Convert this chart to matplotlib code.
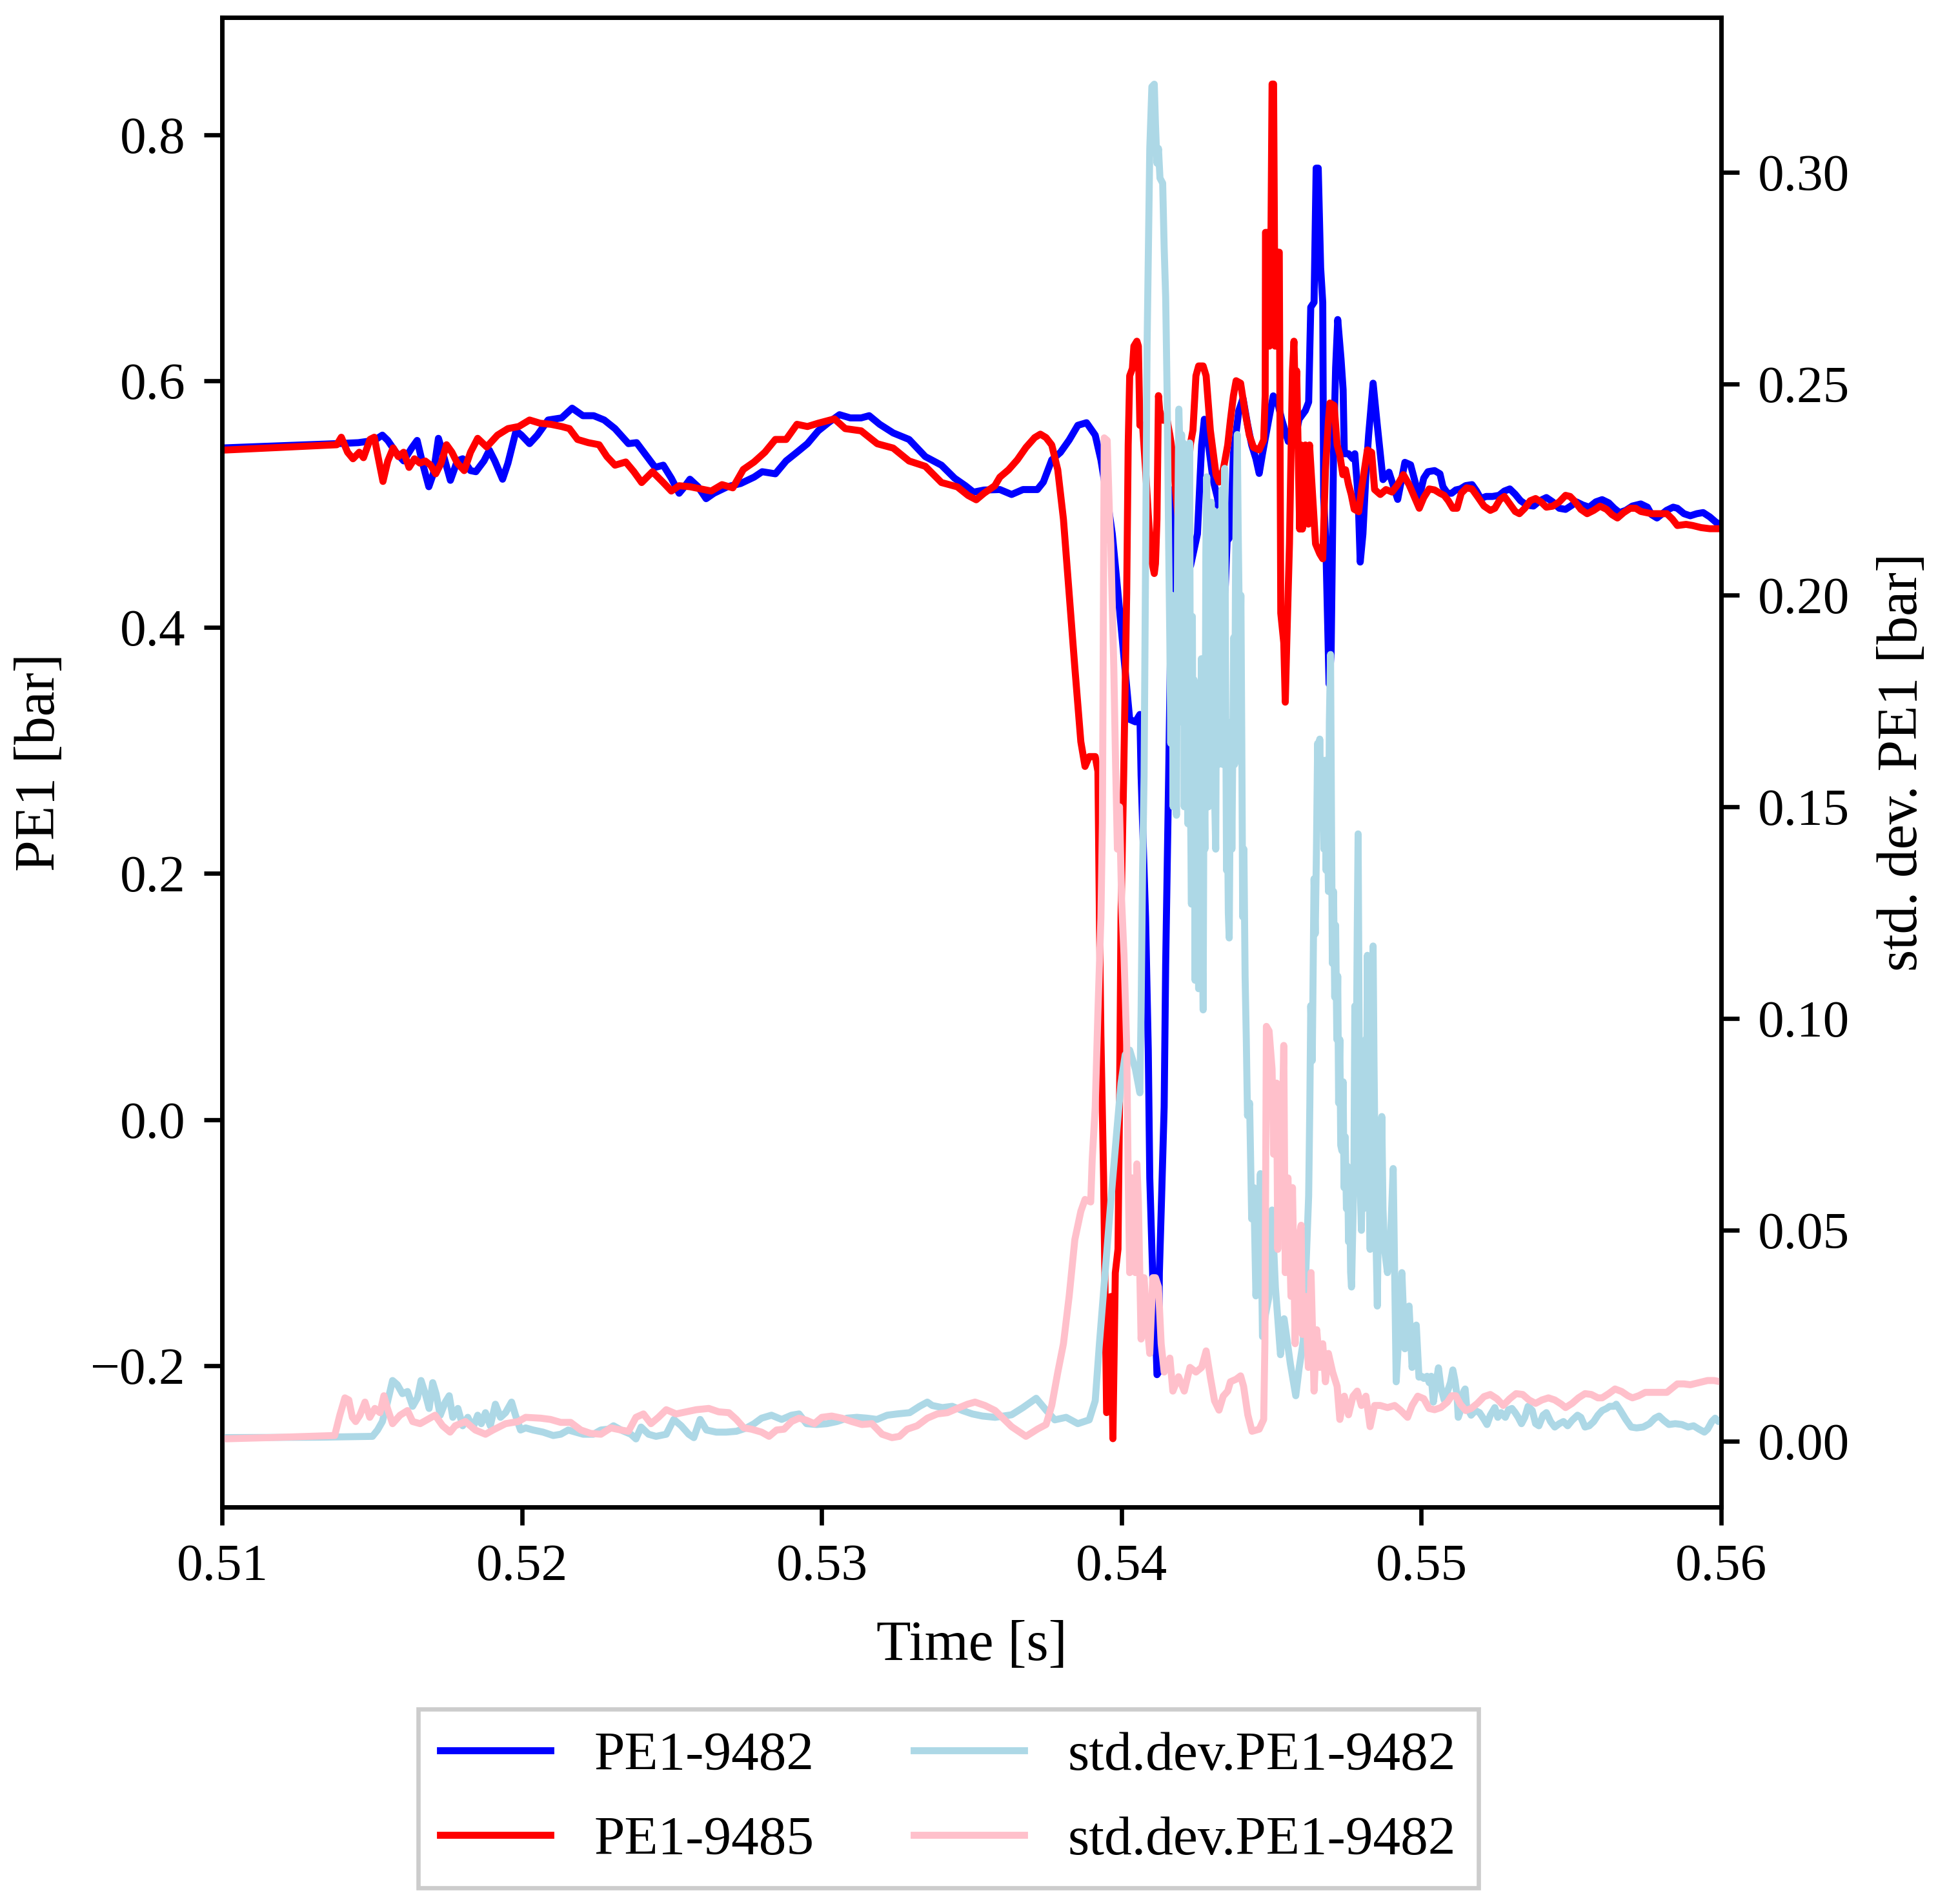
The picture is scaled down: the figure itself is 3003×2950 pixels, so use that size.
import numpy as np
import matplotlib
matplotlib.use("Agg")
import matplotlib.pyplot as plt

# ---- data ----
# PE1-9482 pressure [bar]
pe_9482 = [
    (0.5100, 0.5457), (0.51382, 0.5492), (0.51454, 0.5500), (0.51507, 0.5518), (0.51534, 0.5561),
    (0.51552, 0.5518), (0.51579, 0.5422), (0.51605, 0.5352), (0.51632, 0.5457), (0.51650, 0.5518),
    (0.51668, 0.5334), (0.51689, 0.5142), (0.51704, 0.5247), (0.51721, 0.5535), (0.51739, 0.5387),
    (0.51761, 0.5194), (0.51784, 0.5352), (0.51802, 0.5369), (0.51828, 0.5273), (0.51846, 0.5264),
    (0.51873, 0.5352), (0.51891, 0.5439), (0.51909, 0.5352), (0.51935, 0.5203), (0.51953, 0.5334),
    (0.51980, 0.5596), (0.51998, 0.5561), (0.52025, 0.5492), (0.52051, 0.5561), (0.52087, 0.5684),
    (0.52132, 0.5701), (0.52167, 0.5780), (0.52203, 0.5719), (0.52239, 0.5719), (0.52274, 0.5684),
    (0.52310, 0.5614), (0.52355, 0.5492), (0.52382, 0.5500), (0.52417, 0.5387), (0.52444, 0.5299),
    (0.52471, 0.5317), (0.52498, 0.5211), (0.52524, 0.5089), (0.52542, 0.5142), (0.52560, 0.5203),
    (0.52587, 0.5142), (0.52614, 0.5045), (0.52640, 0.5089), (0.52685, 0.5142), (0.52729, 0.5168),
    (0.52774, 0.5220), (0.52801, 0.5264), (0.52845, 0.5247), (0.52881, 0.5352), (0.52917, 0.5422),
    (0.52952, 0.5492), (0.52988, 0.5596), (0.53024, 0.5666), (0.53059, 0.5727), (0.53095, 0.5701),
    (0.53131, 0.5701), (0.53158, 0.5719), (0.53193, 0.5649), (0.53238, 0.5579), (0.53291, 0.5526),
    (0.53345, 0.5387), (0.53399, 0.5317), (0.53443, 0.5211), (0.53479, 0.5150), (0.53506, 0.5098),
    (0.53541, 0.5115), (0.53594, 0.5119), (0.53633, 0.5079), (0.53671, 0.5119), (0.53719, 0.5119),
    (0.53739, 0.5180), (0.53767, 0.5360), (0.53796, 0.5421), (0.53825, 0.5521), (0.53854, 0.5641),
    (0.53883, 0.5662), (0.53912, 0.5561), (0.53931, 0.5360), (0.53950, 0.5079), (0.53969, 0.4758),
    (0.53988, 0.4276), (0.54008, 0.3754), (0.54027, 0.3252), (0.54046, 0.3232), (0.54061, 0.3292),
    (0.54065, 0.2798), (0.54080, 0.1643), (0.54089, 0.0566), (0.54094, -0.0474), (0.54104, -0.1282),
    (0.54113, -0.1667), (0.54118, -0.2071), (0.54123, -0.2052), (0.54126, -0.1244), (0.54133, -0.0666),
    (0.54142, 0.0104), (0.54147, 0.1258), (0.54157, 0.2798), (0.54166, 0.4276), (0.54171, 0.5119),
    (0.54178, 0.4316), (0.54200, 0.4400), (0.54230, 0.4500), (0.54253, 0.4758), (0.54267, 0.5481),
    (0.54276, 0.5690), (0.54290, 0.5480), (0.54305, 0.5200), (0.54320, 0.5050), (0.54345, 0.4280),
    (0.54352, 0.4700), (0.54363, 0.4740), (0.54373, 0.5410), (0.54384, 0.5620), (0.54391, 0.5760),
    (0.54405, 0.5860), (0.54420, 0.5650), (0.54434, 0.5480), (0.54448, 0.5370), (0.54459, 0.5250),
    (0.54470, 0.5410), (0.54491, 0.5690), (0.54506, 0.5880), (0.54520, 0.5830), (0.54534, 0.5690),
    (0.54556, 0.5510), (0.54577, 0.5510), (0.54592, 0.5690), (0.54613, 0.5760), (0.54624, 0.5830),
    (0.54631, 0.6600), (0.54642, 0.6640), (0.54649, 0.7730), (0.54656, 0.7730), (0.54664, 0.6920),
    (0.54671, 0.6640), (0.54674, 0.5060), (0.54681, 0.4700), (0.54692, 0.3540), (0.54699, 0.3790),
    (0.54707, 0.5410), (0.54714, 0.6110), (0.54721, 0.6500), (0.54732, 0.6180), (0.54739, 0.5930),
    (0.54743, 0.5410), (0.54757, 0.5410), (0.54771, 0.5370), (0.54778, 0.5410), (0.54789, 0.5060),
    (0.54796, 0.4530), (0.54805, 0.4758), (0.54815, 0.5240), (0.54824, 0.5561), (0.54839, 0.5983),
    (0.54853, 0.5641), (0.54872, 0.5200), (0.54892, 0.5260), (0.54921, 0.5039), (0.54945, 0.5340),
    (0.54964, 0.5320), (0.54993, 0.5054), (0.55008, 0.5212), (0.55022, 0.5264), (0.55044, 0.5273),
    (0.55062, 0.5247), (0.55072, 0.5142), (0.55087, 0.5089), (0.55101, 0.5089), (0.55115, 0.5116),
    (0.55130, 0.5124), (0.55148, 0.5151), (0.55169, 0.5159), (0.55184, 0.5107), (0.55198, 0.5046),
    (0.55216, 0.5063), (0.55237, 0.5063), (0.55259, 0.5072), (0.55277, 0.5107), (0.55295, 0.5124),
    (0.55313, 0.5081), (0.55331, 0.5028), (0.55352, 0.4993), (0.55374, 0.4985), (0.55395, 0.5028),
    (0.55417, 0.5054), (0.55438, 0.5019), (0.55460, 0.4967), (0.55481, 0.4958), (0.55503, 0.4993),
    (0.55517, 0.5019), (0.55539, 0.4993), (0.55560, 0.4976), (0.55582, 0.5019), (0.55603, 0.5037),
    (0.55625, 0.5011), (0.55643, 0.4967), (0.55661, 0.4932), (0.55682, 0.4950), (0.55704, 0.4985),
    (0.55732, 0.5002), (0.55754, 0.4976), (0.55768, 0.4915), (0.55786, 0.4888), (0.55800, 0.4915),
    (0.55818, 0.4950), (0.55840, 0.4976), (0.55854, 0.4967), (0.55876, 0.4923), (0.55897, 0.4906),
    (0.55919, 0.4923), (0.55940, 0.4932), (0.55962, 0.4897), (0.55983, 0.4853), (0.55998, 0.4836),
]

# PE1-9485 pressure [bar]
pe_9485 = [
    (0.5100, 0.5439), (0.51382, 0.5483), (0.51397, 0.5544), (0.51418, 0.5422), (0.51436, 0.5369),
    (0.51457, 0.5422), (0.51471, 0.5378), (0.51493, 0.5527), (0.51507, 0.5544), (0.51521, 0.5369),
    (0.51536, 0.5185), (0.51552, 0.5351), (0.51570, 0.5457), (0.51587, 0.5387), (0.51605, 0.5422),
    (0.51623, 0.5299), (0.51641, 0.5369), (0.51659, 0.5334), (0.51677, 0.5351), (0.51695, 0.5317),
    (0.51712, 0.5247), (0.51730, 0.5334), (0.51748, 0.5483), (0.51766, 0.5422), (0.51784, 0.5334),
    (0.51807, 0.5273), (0.51828, 0.5422), (0.51852, 0.5535), (0.51882, 0.5465), (0.51918, 0.5561),
    (0.51953, 0.5614), (0.51989, 0.5631), (0.52025, 0.5684), (0.52060, 0.5658), (0.52096, 0.5649),
    (0.52132, 0.5631), (0.52158, 0.5614), (0.52185, 0.5526), (0.52221, 0.5500), (0.52257, 0.5483),
    (0.52283, 0.5387), (0.52310, 0.5317), (0.52346, 0.5343), (0.52373, 0.5264), (0.52399, 0.5176),
    (0.52435, 0.5264), (0.52471, 0.5176), (0.52498, 0.5107), (0.52524, 0.5150), (0.52560, 0.5142),
    (0.52596, 0.5124), (0.52631, 0.5107), (0.52667, 0.5159), (0.52703, 0.5133), (0.52738, 0.5282),
    (0.52774, 0.5343), (0.52810, 0.5422), (0.52845, 0.5526), (0.52881, 0.5526), (0.52917, 0.5649),
    (0.52952, 0.5631), (0.52988, 0.5658), (0.53042, 0.5693), (0.53078, 0.5614), (0.53131, 0.5596),
    (0.53185, 0.5491), (0.53238, 0.5456), (0.53291, 0.5351), (0.53345, 0.5308), (0.53399, 0.5176),
    (0.53452, 0.5141), (0.53488, 0.5071), (0.53515, 0.5036), (0.53541, 0.5089), (0.53577, 0.5150),
    (0.53594, 0.5220), (0.53623, 0.5280), (0.53652, 0.5360), (0.53681, 0.5461), (0.53710, 0.5541),
    (0.53729, 0.5569), (0.53748, 0.5541), (0.53767, 0.5481), (0.53787, 0.5280), (0.53806, 0.4878),
    (0.53825, 0.4276), (0.53844, 0.3673), (0.53864, 0.3071), (0.53878, 0.2870), (0.53892, 0.2950),
    (0.53912, 0.2950), (0.53921, 0.2830), (0.53926, 0.1643), (0.53931, 0.0681), (0.53940, -0.0474),
    (0.53950, -0.2379), (0.53958, -0.2360), (0.53964, -0.1436), (0.53971, -0.2591), (0.53979, -0.1244),
    (0.53988, -0.1051), (0.53993, 0.0104), (0.53998, 0.1643), (0.54007, 0.2798), (0.54017, 0.4276),
    (0.54022, 0.5481), (0.54027, 0.6043), (0.54036, 0.6103), (0.54041, 0.6284), (0.54051, 0.6324),
    (0.54056, 0.6284), (0.54061, 0.5641), (0.54070, 0.5641), (0.54080, 0.5280), (0.54089, 0.4918),
    (0.54099, 0.4557), (0.54109, 0.4437), (0.54113, 0.4517), (0.54118, 0.4878), (0.54123, 0.5882),
    (0.54127, 0.5762), (0.54137, 0.5682), (0.54152, 0.5682), (0.54161, 0.5561), (0.54171, 0.5400),
    (0.54181, 0.5079), (0.54200, 0.4600), (0.54215, 0.5000), (0.54229, 0.5481), (0.54238, 0.5601),
    (0.54248, 0.6043), (0.54257, 0.6123), (0.54272, 0.6123), (0.54282, 0.6043), (0.54296, 0.5601),
    (0.54315, 0.5240), (0.54325, 0.5180), (0.54339, 0.5280), (0.54354, 0.5481), (0.54363, 0.5682),
    (0.54373, 0.5882), (0.54382, 0.6003), (0.54397, 0.5983), (0.54411, 0.5762), (0.54426, 0.5561),
    (0.54440, 0.5461), (0.54459, 0.5441), (0.54474, 0.5521), (0.54479, 0.5882), (0.54480, 0.7208),
    (0.54488, 0.7208), (0.54493, 0.6284), (0.54498, 0.7087), (0.54502, 0.8413), (0.54507, 0.8413),
    (0.54512, 0.6284), (0.54517, 0.7047), (0.54526, 0.7047), (0.54531, 0.4115), (0.54541, 0.3874),
    (0.54546, 0.3392), (0.54551, 0.3874), (0.54560, 0.4678), (0.54570, 0.6083), (0.54575, 0.6324),
    (0.54579, 0.5882), (0.54584, 0.6083), (0.54594, 0.4798), (0.54599, 0.5481), (0.54603, 0.4798),
    (0.54613, 0.5481), (0.54623, 0.4838), (0.54627, 0.5481), (0.54637, 0.5079), (0.54647, 0.4678),
    (0.54661, 0.4597), (0.54671, 0.4557), (0.54680, 0.5280), (0.54690, 0.5682), (0.54695, 0.5822),
    (0.54709, 0.5802), (0.54719, 0.5481), (0.54728, 0.5400), (0.54738, 0.5240), (0.54747, 0.5280),
    (0.54757, 0.5160), (0.54766, 0.5079), (0.54776, 0.4959), (0.54791, 0.4939), (0.54800, 0.5119),
    (0.54810, 0.5280), (0.54820, 0.5441), (0.54834, 0.5421), (0.54844, 0.5119), (0.54863, 0.5079),
    (0.54882, 0.5119), (0.54902, 0.5099), (0.54921, 0.5159), (0.54940, 0.5240), (0.54959, 0.5159),
    (0.54993, 0.4967), (0.55008, 0.5054), (0.55026, 0.5124), (0.55044, 0.5116), (0.55062, 0.5089),
    (0.55076, 0.5072), (0.55090, 0.5028), (0.55105, 0.4967), (0.55119, 0.4967), (0.55133, 0.5089),
    (0.55151, 0.5133), (0.55169, 0.5124), (0.55187, 0.5063), (0.55209, 0.4985), (0.55230, 0.4950),
    (0.55245, 0.4967), (0.55262, 0.5037), (0.55277, 0.5063), (0.55295, 0.5002), (0.55313, 0.4941),
    (0.55327, 0.4923), (0.55345, 0.4967), (0.55363, 0.5028), (0.55381, 0.5046), (0.55399, 0.5019),
    (0.55417, 0.4976), (0.55438, 0.4984), (0.55460, 0.5019), (0.55481, 0.5072), (0.55496, 0.5063),
    (0.55510, 0.5028), (0.55532, 0.4958), (0.55553, 0.4923), (0.55575, 0.4950), (0.55596, 0.4984),
    (0.55618, 0.4958), (0.55636, 0.4915), (0.55654, 0.4888), (0.55675, 0.4932), (0.55697, 0.4967),
    (0.55715, 0.4967), (0.55732, 0.4941), (0.55750, 0.4932), (0.55768, 0.4923), (0.55790, 0.4923),
    (0.55819, 0.4923), (0.55837, 0.4880), (0.55854, 0.4827), (0.55883, 0.4836), (0.55905, 0.4827),
    (0.55933, 0.4810), (0.55962, 0.4801), (0.55998, 0.4801),
]

# standard deviation of PE1-9482 [bar] (right axis)
std_9482 = [
    (0.5100, 0.0009), (0.51325, 0.0010), (0.51501, 0.0012), (0.51518, 0.0027), (0.51534, 0.0047),
    (0.51551, 0.0093), (0.51568, 0.0144), (0.51584, 0.0134), (0.51601, 0.0113), (0.51618, 0.0118),
    (0.51635, 0.0083), (0.51651, 0.0103), (0.51663, 0.0144), (0.51677, 0.0113), (0.51690, 0.0078),
    (0.51702, 0.0139), (0.51713, 0.0113), (0.51727, 0.0062), (0.51744, 0.0093), (0.51757, 0.0108),
    (0.51769, 0.0057), (0.51786, 0.0078), (0.51802, 0.0037), (0.51819, 0.0057), (0.51836, 0.0032),
    (0.51852, 0.0062), (0.51864, 0.0042), (0.51878, 0.0068), (0.51894, 0.0037), (0.51911, 0.0088),
    (0.51928, 0.0057), (0.51945, 0.0068), (0.51965, 0.0093), (0.51978, 0.0062), (0.51995, 0.0027),
    (0.52012, 0.0032), (0.52037, 0.0027), (0.52070, 0.0022), (0.52104, 0.0014), (0.52129, 0.0017),
    (0.52154, 0.0027), (0.52179, 0.0022), (0.52204, 0.0017), (0.52238, 0.0017), (0.52263, 0.0027),
    (0.52288, 0.0029), (0.52305, 0.0037), (0.52330, 0.0027), (0.52363, 0.0017), (0.52380, 0.0006),
    (0.52397, 0.0034), (0.52422, 0.0017), (0.52447, 0.0012), (0.52481, 0.0017), (0.52506, 0.0052),
    (0.52531, 0.0037), (0.52556, 0.0017), (0.52573, 0.0009), (0.52594, 0.0052), (0.52615, 0.0027),
    (0.52648, 0.0022), (0.52681, 0.0022), (0.52715, 0.0024), (0.52749, 0.0032), (0.52774, 0.0042),
    (0.52799, 0.0055), (0.52832, 0.0062), (0.52866, 0.0052), (0.52899, 0.0062), (0.52924, 0.0065),
    (0.52949, 0.0042), (0.52983, 0.0040), (0.53017, 0.0042), (0.53050, 0.0047), (0.53084, 0.0055),
    (0.53117, 0.0057), (0.53151, 0.0055), (0.53184, 0.0052), (0.53218, 0.0062), (0.53251, 0.0065),
    (0.53293, 0.0068), (0.53326, 0.0083), (0.53352, 0.0093), (0.53368, 0.0085), (0.53402, 0.0080),
    (0.53435, 0.0083), (0.53469, 0.0073), (0.53502, 0.0065), (0.53536, 0.0060), (0.53578, 0.0057),
    (0.53633, 0.0063), (0.53671, 0.0080), (0.53715, 0.0102), (0.53748, 0.0074), (0.53777, 0.0051),
    (0.53815, 0.0057), (0.53854, 0.0042), (0.53892, 0.0051), (0.53912, 0.0096), (0.53926, 0.0231),
    (0.53945, 0.0399), (0.53964, 0.0567), (0.53984, 0.0734), (0.53998, 0.0847), (0.54012, 0.0914),
    (0.54027, 0.0925), (0.54046, 0.0880), (0.54061, 0.0824), (0.54065, 0.1014), (0.54070, 0.1350),
    (0.54075, 0.1574), (0.54085, 0.2589), (0.54094, 0.3056), (0.54101, 0.3202), (0.54109, 0.3208),
    (0.54113, 0.3114), (0.54118, 0.3021), (0.54123, 0.3056), (0.54128, 0.2986), (0.54137, 0.2974),
    (0.54142, 0.2822), (0.54147, 0.2705), (0.54152, 0.2472), (0.54157, 0.2121), (0.54161, 0.1887),
    (0.54164, 0.165), (0.54168, 0.200), (0.54172, 0.150), (0.54176, 0.190), (0.54179, 0.165),
    (0.54183, 0.148), (0.54187, 0.215), (0.54191, 0.244), (0.54194, 0.236), (0.54197, 0.190),
    (0.54200, 0.238), (0.54203, 0.170), (0.54206, 0.236), (0.54209, 0.150), (0.54212, 0.225),
    (0.54215, 0.160), (0.54218, 0.232), (0.54221, 0.146), (0.54224, 0.200), (0.54227, 0.236),
    (0.54230, 0.150), (0.54233, 0.127), (0.54236, 0.195), (0.54239, 0.140), (0.54242, 0.180),
    (0.54245, 0.109), (0.54248, 0.170), (0.54251, 0.120), (0.54254, 0.160), (0.54257, 0.107),
    (0.54260, 0.150), (0.54263, 0.137), (0.54266, 0.185), (0.54269, 0.120), (0.54272, 0.102),
    (0.54275, 0.160), (0.54278, 0.140), (0.54281, 0.210), (0.54284, 0.228), (0.54287, 0.160),
    (0.54290, 0.150), (0.54293, 0.215), (0.54296, 0.180), (0.54299, 0.222), (0.54302, 0.165),
    (0.54305, 0.210), (0.54308, 0.220), (0.54311, 0.150), (0.54314, 0.140), (0.54317, 0.190),
    (0.54320, 0.205), (0.54323, 0.160), (0.54326, 0.175), (0.54329, 0.220), (0.54332, 0.190),
    (0.54335, 0.225), (0.54338, 0.160), (0.54341, 0.170), (0.54344, 0.230), (0.54347, 0.180),
    (0.54350, 0.135), (0.54353, 0.150), (0.54356, 0.125), (0.54359, 0.119), (0.54362, 0.150),
    (0.54365, 0.170), (0.54368, 0.140), (0.54371, 0.165), (0.54374, 0.190), (0.54377, 0.160),
    (0.54380, 0.205), (0.54383, 0.225), (0.54386, 0.238), (0.54389, 0.215), (0.54392, 0.198),
    (0.54395, 0.185), (0.54398, 0.200), (0.54401, 0.165), (0.54404, 0.124), (0.54408, 0.140),
    (0.54412, 0.110), (0.54416, 0.095), (0.54420, 0.077), (0.54427, 0.080), (0.54434, 0.0526),
    (0.54441, 0.060), (0.54448, 0.0344), (0.54456, 0.050), (0.54463, 0.0633), (0.54470, 0.0248),
    (0.54480, 0.030), (0.54491, 0.034), (0.54502, 0.0547), (0.54513, 0.0365), (0.54530, 0.0205),
    (0.54542, 0.029), (0.54552, 0.024), (0.54563, 0.0183), (0.54581, 0.0108), (0.54592, 0.0172),
    (0.54606, 0.0237), (0.54624, 0.058), (0.54628, 0.080), (0.54631, 0.103), (0.54636, 0.090),
    (0.54642, 0.133), (0.54646, 0.120), (0.54650, 0.140), (0.54654, 0.165), (0.54657, 0.150),
    (0.54661, 0.166), (0.54664, 0.155), (0.54668, 0.145), (0.54671, 0.160), (0.54675, 0.140),
    (0.54678, 0.161), (0.54682, 0.135), (0.54686, 0.150), (0.54690, 0.130), (0.54693, 0.170),
    (0.54697, 0.186), (0.54700, 0.150), (0.54703, 0.113), (0.54707, 0.130), (0.54711, 0.105),
    (0.54714, 0.122), (0.54718, 0.095), (0.54721, 0.110), (0.54724, 0.080), (0.54728, 0.095),
    (0.54731, 0.070), (0.54735, 0.0687), (0.54739, 0.085), (0.54742, 0.060), (0.54746, 0.072),
    (0.54750, 0.055), (0.54754, 0.065), (0.54757, 0.0472), (0.54761, 0.058), (0.54764, 0.040),
    (0.54767, 0.0365), (0.54771, 0.050), (0.54775, 0.0633), (0.54778, 0.1029), (0.54782, 0.080),
    (0.54786, 0.120), (0.54789, 0.1436), (0.54793, 0.090), (0.54796, 0.060), (0.54800, 0.0499),
    (0.54803, 0.070), (0.54807, 0.055), (0.54810, 0.0790), (0.54814, 0.095), (0.54817, 0.080),
    (0.54820, 0.1149), (0.54824, 0.070), (0.54829, 0.0454), (0.54833, 0.080), (0.54836, 0.100),
    (0.54839, 0.1171), (0.54842, 0.090), (0.54844, 0.0768), (0.54848, 0.050), (0.54853, 0.0320),
    (0.54857, 0.055), (0.54861, 0.070), (0.54865, 0.060), (0.54868, 0.0768), (0.54872, 0.055),
    (0.54877, 0.0454), (0.54887, 0.0399), (0.54897, 0.0477), (0.54906, 0.0645), (0.54916, 0.0141),
    (0.54925, 0.0253), (0.54935, 0.0399), (0.54945, 0.0219), (0.54959, 0.0320), (0.54969, 0.0175),
    (0.54983, 0.0275), (0.54992, 0.0152), (0.55001, 0.0154), (0.55008, 0.0149), (0.55019, 0.0154),
    (0.55026, 0.0139), (0.55033, 0.0154), (0.55040, 0.0093), (0.55047, 0.0129), (0.55057, 0.0174),
    (0.55065, 0.0129), (0.55076, 0.0098), (0.55087, 0.0118), (0.55097, 0.0139), (0.55105, 0.0169),
    (0.55112, 0.0144), (0.55119, 0.0108), (0.55123, 0.0057), (0.55133, 0.0078), (0.55141, 0.0118),
    (0.55146, 0.0124), (0.55151, 0.0083), (0.55166, 0.0062), (0.55180, 0.0073), (0.55194, 0.0068),
    (0.55209, 0.0052), (0.55219, 0.0040), (0.55230, 0.0062), (0.55245, 0.0080), (0.55255, 0.0057),
    (0.55266, 0.0068), (0.55280, 0.0057), (0.55291, 0.0075), (0.55302, 0.0078), (0.55313, 0.0068),
    (0.55323, 0.0057), (0.55334, 0.0042), (0.55345, 0.0057), (0.55356, 0.0083), (0.55370, 0.0073),
    (0.55381, 0.0042), (0.55392, 0.0037), (0.55406, 0.0062), (0.55417, 0.0068), (0.55431, 0.0047),
    (0.55445, 0.0034), (0.55460, 0.0042), (0.55474, 0.0047), (0.55488, 0.0037), (0.55503, 0.0050),
    (0.55521, 0.0062), (0.55532, 0.0057), (0.55546, 0.0034), (0.55560, 0.0037), (0.55575, 0.0047),
    (0.55589, 0.0062), (0.55603, 0.0073), (0.55618, 0.0078), (0.55628, 0.0083), (0.55643, 0.0083),
    (0.55650, 0.0088), (0.55664, 0.0073), (0.55682, 0.0052), (0.55700, 0.0034), (0.55718, 0.0032),
    (0.55740, 0.0034), (0.55761, 0.0042), (0.55779, 0.0055), (0.55793, 0.0060), (0.55808, 0.0050),
    (0.55826, 0.0040), (0.55847, 0.0042), (0.55869, 0.0040), (0.55890, 0.0034), (0.55908, 0.0037),
    (0.55926, 0.0029), (0.55944, 0.0022), (0.55955, 0.0029), (0.55969, 0.0047), (0.55980, 0.0055),
    (0.55991, 0.0047), (0.55998, 0.0047),
]

# second standard deviation series (right axis, pink)
std_9485 = [
    (0.5100, 0.0006), (0.51157, 0.0009), (0.51375, 0.0014), (0.51392, 0.0062), (0.51409, 0.0103),
    (0.51422, 0.0098), (0.51434, 0.0057), (0.51445, 0.0047), (0.51459, 0.0062), (0.51476, 0.0093),
    (0.51492, 0.0057), (0.51509, 0.0078), (0.51526, 0.0068), (0.51539, 0.0108), (0.51551, 0.0078),
    (0.51568, 0.0042), (0.51593, 0.0062), (0.51618, 0.0073), (0.51635, 0.0047), (0.51660, 0.0042),
    (0.51685, 0.0052), (0.51710, 0.0062), (0.51735, 0.0037), (0.51760, 0.0022), (0.51777, 0.0037),
    (0.51811, 0.0047), (0.51844, 0.0027), (0.51878, 0.0017), (0.51903, 0.0027), (0.51945, 0.0042),
    (0.51987, 0.0047), (0.52012, 0.0057), (0.52062, 0.0055), (0.52095, 0.0052), (0.52129, 0.0045),
    (0.52162, 0.0045), (0.52196, 0.0027), (0.52229, 0.0019), (0.52263, 0.0017), (0.52296, 0.0032),
    (0.52330, 0.0027), (0.52355, 0.0024), (0.52380, 0.0057), (0.52405, 0.0065), (0.52430, 0.0042),
    (0.52455, 0.0057), (0.52481, 0.0075), (0.52514, 0.0065), (0.52548, 0.0070), (0.52581, 0.0075),
    (0.52623, 0.0078), (0.52656, 0.0070), (0.52690, 0.0068), (0.52715, 0.0052), (0.52740, 0.0032),
    (0.52765, 0.0029), (0.52799, 0.0022), (0.52824, 0.0012), (0.52849, 0.0027), (0.52874, 0.0029),
    (0.52899, 0.0047), (0.52924, 0.0055), (0.52949, 0.0050), (0.52975, 0.0042), (0.53000, 0.0057),
    (0.53033, 0.0060), (0.53067, 0.0055), (0.53100, 0.0047), (0.53134, 0.0040), (0.53167, 0.0042),
    (0.53201, 0.0017), (0.53234, 0.0009), (0.53259, 0.0012), (0.53285, 0.0029), (0.53318, 0.0037),
    (0.53352, 0.0055), (0.53385, 0.0065), (0.53419, 0.0068), (0.53452, 0.0078), (0.53486, 0.0088),
    (0.53511, 0.0093), (0.53544, 0.0085), (0.53578, 0.0073), (0.53633, 0.0035), (0.53681, 0.0012),
    (0.53719, 0.0029), (0.53748, 0.0040), (0.53767, 0.0085), (0.53787, 0.0163), (0.53806, 0.0231),
    (0.53825, 0.0343), (0.53844, 0.0477), (0.53864, 0.0544), (0.53878, 0.0572), (0.53897, 0.0566),
    (0.53902, 0.0667), (0.53912, 0.0791), (0.53921, 0.1014), (0.53931, 0.1238), (0.53936, 0.1462),
    (0.53942, 0.2372), (0.53952, 0.2366), (0.53960, 0.2180), (0.53964, 0.2121), (0.53974, 0.1829),
    (0.53980, 0.160), (0.53986, 0.140), (0.53993, 0.150), (0.54000, 0.128), (0.54008, 0.115),
    (0.54017, 0.0936), (0.54022, 0.0623), (0.54027, 0.0399), (0.54036, 0.0623), (0.54046, 0.0399),
    (0.54051, 0.0656), (0.54056, 0.0567), (0.54065, 0.0242), (0.54075, 0.0387), (0.54084, 0.0287),
    (0.54094, 0.0208), (0.54104, 0.0387), (0.54113, 0.0387), (0.54123, 0.0365), (0.54132, 0.0231),
    (0.54142, 0.0164), (0.54161, 0.0197), (0.54171, 0.0119), (0.54190, 0.0153), (0.54209, 0.0119),
    (0.54228, 0.0175), (0.54248, 0.0164), (0.54267, 0.0175), (0.54282, 0.0214), (0.54296, 0.0152),
    (0.54310, 0.0096), (0.54325, 0.0074), (0.54339, 0.0107), (0.54354, 0.0119), (0.54363, 0.0141),
    (0.54382, 0.0147), (0.54397, 0.0155), (0.54407, 0.0130), (0.54421, 0.0063), (0.54435, 0.0024),
    (0.54459, 0.0029), (0.54474, 0.0052), (0.54478, 0.0231), (0.54483, 0.0981), (0.54492, 0.0970),
    (0.54502, 0.0880), (0.54507, 0.0679), (0.54517, 0.0847), (0.54521, 0.0454), (0.54526, 0.0790),
    (0.54531, 0.0567), (0.54541, 0.0936), (0.54546, 0.0399), (0.54555, 0.0623), (0.54565, 0.0343),
    (0.54570, 0.0600), (0.54579, 0.0231), (0.54584, 0.0454), (0.54599, 0.0511), (0.54603, 0.0253),
    (0.54613, 0.0343), (0.54623, 0.0175), (0.54632, 0.0399), (0.54642, 0.0119), (0.54651, 0.0264),
    (0.54661, 0.0175), (0.54671, 0.0231), (0.54680, 0.0141), (0.54690, 0.0208), (0.54704, 0.0164),
    (0.54719, 0.0130), (0.54728, 0.0052), (0.54743, 0.0107), (0.54757, 0.0063), (0.54772, 0.0107),
    (0.54786, 0.0119), (0.54800, 0.0085), (0.54815, 0.0107), (0.54829, 0.0035), (0.54844, 0.0085),
    (0.54863, 0.0085), (0.54887, 0.0080), (0.54911, 0.0085), (0.54930, 0.0074), (0.54954, 0.0057),
    (0.54969, 0.0085), (0.54988, 0.0107), (0.55008, 0.0101), (0.55026, 0.0078), (0.55044, 0.0075),
    (0.55065, 0.0080), (0.55087, 0.0093), (0.55101, 0.0108), (0.55115, 0.0108), (0.55130, 0.0088),
    (0.55148, 0.0073), (0.55166, 0.0078), (0.55187, 0.0090), (0.55209, 0.0106), (0.55230, 0.0111),
    (0.55252, 0.0101), (0.55273, 0.0085), (0.55295, 0.0101), (0.55316, 0.0113), (0.55338, 0.0111),
    (0.55359, 0.0098), (0.55381, 0.0090), (0.55402, 0.0098), (0.55424, 0.0103), (0.55445, 0.0098),
    (0.55467, 0.0088), (0.55481, 0.0080), (0.55503, 0.0090), (0.55524, 0.0103), (0.55546, 0.0113),
    (0.55567, 0.0111), (0.55589, 0.0103), (0.55603, 0.0103), (0.55625, 0.0113), (0.55646, 0.0124),
    (0.55668, 0.0118), (0.55689, 0.0108), (0.55704, 0.0103), (0.55725, 0.0108), (0.55747, 0.0116),
    (0.55768, 0.0116), (0.55790, 0.0116), (0.55819, 0.0116), (0.55833, 0.0124), (0.55854, 0.0136),
    (0.55876, 0.0136), (0.55897, 0.0134), (0.55926, 0.0139), (0.55955, 0.0144), (0.55976, 0.0144),
    (0.55998, 0.0141),
]

labels = ["PE1-9482", "PE1-9485", "std.dev.PE1-9482", "std.dev.PE1-9482"]
x_ticks = [0.51, 0.52, 0.53, 0.54, 0.55, 0.56]
left_ticks = [-0.2, 0.0, 0.2, 0.4, 0.6, 0.8]
right_ticks = [0.00, 0.05, 0.10, 0.15, 0.20, 0.25, 0.30]

plt.rcParams['font.family'] = ['Liberation Serif', 'DejaVu Serif']
plt.rcParams['font.size'] = 19.5
plt.rcParams['axes.linewidth'] = 1.6
for ax_name in ['xtick', 'ytick']:
    plt.rcParams[ax_name + '.major.size'] = 6.8
    plt.rcParams[ax_name + '.major.width'] = 1.6
    plt.rcParams[ax_name + '.major.pad'] = 6.8

label_size = 21

fig = plt.figure(figsize=(3003 / 300, 2950 / 300), dpi=300)
ax = fig.add_axes([0.1147, 0.2085, 0.8881 - 0.1147, 0.9909 - 0.2085])
ax2 = ax.twinx()

lw = 2.6
t, v = np.array(pe_9482).T
l1, = ax.plot(t, v, color='blue', lw=lw, label=labels[0])
t, v = np.array(pe_9485).T
l2, = ax.plot(t, v, color='red', lw=lw, label=labels[1])
t, v = np.array(std_9482).T
l3, = ax2.plot(t, v, color='lightblue', lw=lw, label=labels[2])
t, v = np.array(std_9485).T
l4, = ax2.plot(t, v, color='pink', lw=lw, label=labels[3])

ax.set_xlim(0.51, 0.56)
ax.set_ylim(-0.3146, 0.8955)
ax2.set_ylim(-0.0155, 0.3366)
ax.set_xticks(x_ticks)
ax.set_yticks(left_ticks)
ax2.set_yticks(right_ticks)

ax.set_xlabel("Time [s]", fontsize=label_size, labelpad=11)
ax.set_ylabel("PE1 [bar]", fontsize=label_size, labelpad=9)
ax2.set_ylabel("std. dev. PE1 [bar]", fontsize=label_size, labelpad=10)

leg = fig.legend([l1, l2, l3, l4], labels, ncol=2, loc='upper center',
                 bbox_to_anchor=(0.4892, 0.1024), borderaxespad=0,
                 fontsize=20.5, labelspacing=0.62, columnspacing=1.8,
                 fancybox=False, edgecolor='0.8', framealpha=1)
leg.get_frame().set_linewidth(1.6)

fig.savefig("out.png", dpi=300)
